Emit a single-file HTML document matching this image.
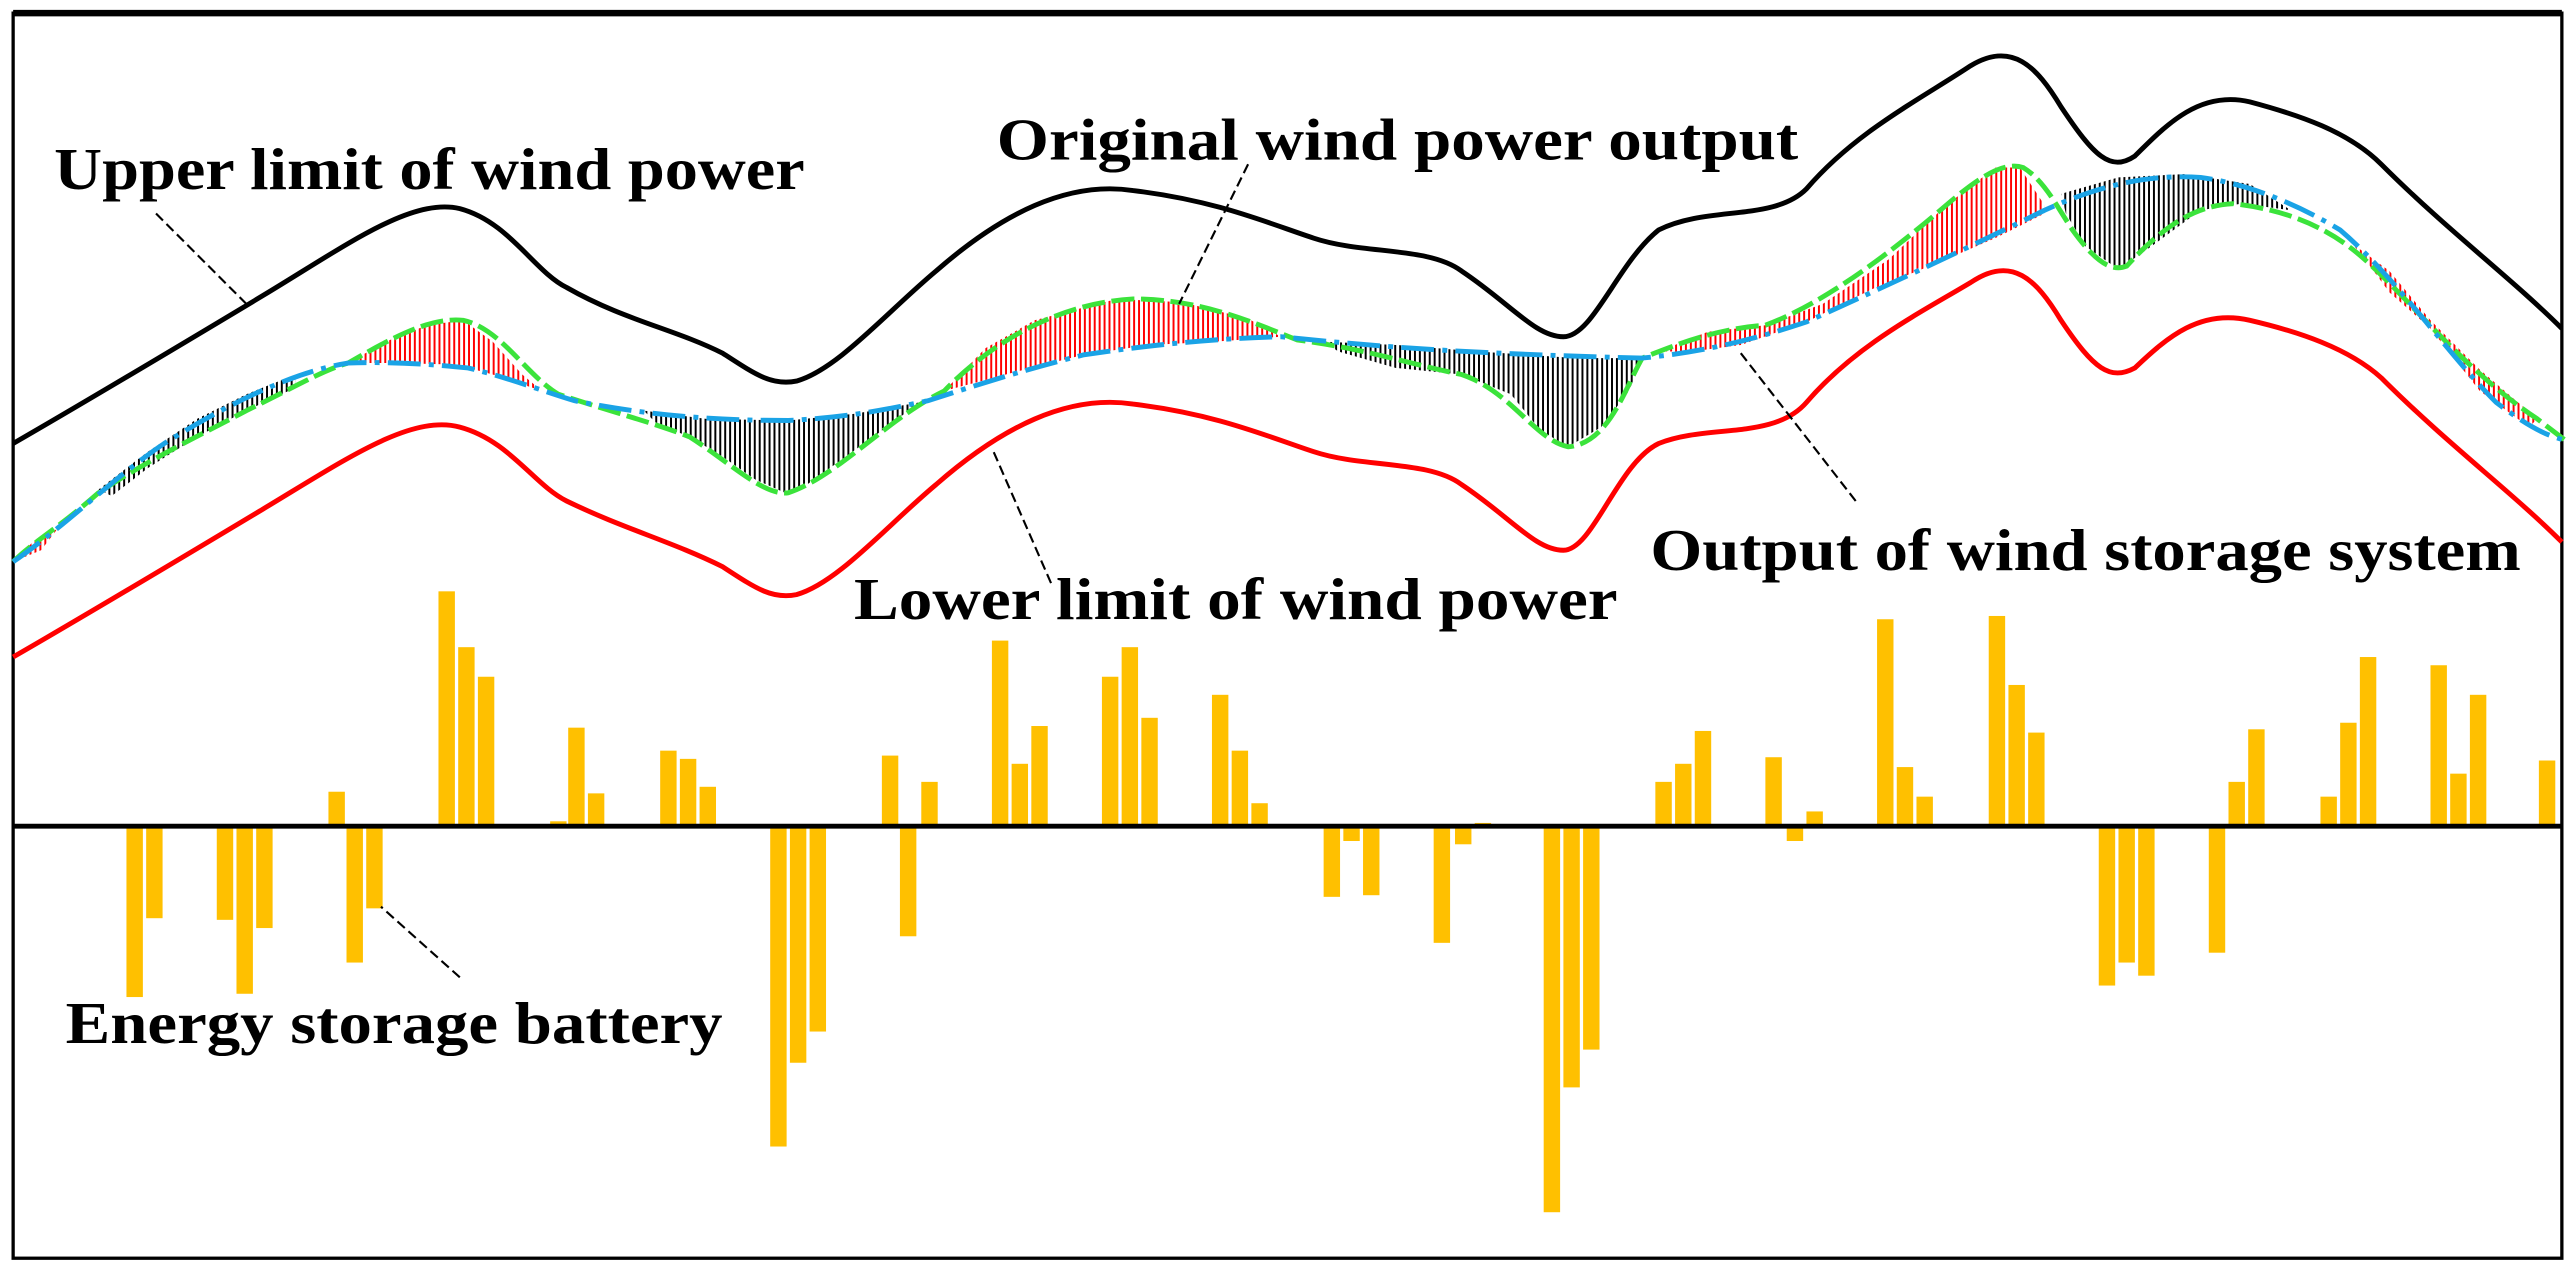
<!DOCTYPE html>
<html><head><meta charset="utf-8"><style>
html,body{margin:0;padding:0;background:#fff;}
svg{display:block;}
text{font-family:"Liberation Serif",serif;font-weight:bold;font-size:36px;fill:#000;}
</style></head><body>
<svg width="2575" height="1273" viewBox="0 0 1568 775" preserveAspectRatio="none" xmlns="http://www.w3.org/2000/svg">
<defs>
<pattern id="hr" width="3" height="10" patternUnits="userSpaceOnUse"><rect x="0" y="0" width="1.2" height="10" fill="#f00"/></pattern>
<pattern id="hk" width="3" height="10" patternUnits="userSpaceOnUse"><rect x="0" y="0" width="1.2" height="10" fill="#000"/></pattern>
</defs>
<rect x="0" y="0" width="1568" height="775" fill="#fff"/>
<rect x="8" y="8" width="1552" height="758" fill="none" stroke="#000" stroke-width="2"/>
<line x1="8" y1="8" x2="1560" y2="8" stroke="#000" stroke-width="4"/>

<path d="M8,342 L20,330 L35,322 L25,335 Z" fill="url(#hr)"/>
<path d="M60,298 L90,275 L120,255 L150,240 L180,228 L180,236 L150,250 L120,266 L90,285 L68,302 Z" fill="url(#hk)"/>
<path d="M212,221 L235,208 L260,198 L282,195 L300,208 L318,228 L330,238 L300,228 L278,222 L240,221 Z" fill="url(#hr)"/>
<path d="M392,250 L430,255 L480,256 L520,252 L560,245 L540,260 L515,278 L490,296 L478,300 L460,292 L440,278 L420,266 L400,258 Z" fill="url(#hk)"/>
<path d="M575,238 L600,212 L630,195 L680,182 L720,184 L760,194 L780,205 L740,208 L700,210 L660,216 L620,226 L590,234 Z" fill="url(#hr)"/>
<path d="M806,208 L850,210 L900,214 L960,218 L1000,218 L992,238 L975,260 L955,272 L938,262 L920,240 L890,228 L850,224 L815,214 Z" fill="url(#hk)"/>
<path d="M1010,214 L1040,202 L1075,198 L1110,185 L1150,158 L1185,125 L1215,102 L1230,102 L1245,125 L1245,130 L1215,145 L1180,160 L1140,176 L1100,196 L1060,210 L1030,214 Z" fill="url(#hr)"/>
<path d="M1255,118 L1290,108 L1330,106 L1370,112 L1395,128 L1365,124 L1340,128 L1310,150 L1290,164 L1270,150 L1258,130 Z" fill="url(#hk)"/>
<path d="M1432,148 L1455,165 L1480,195 L1510,225 L1545,255 L1540,260 L1510,238 L1480,200 L1455,178 L1438,155 Z" fill="url(#hr)"/>

<path d="M8,270 C60,240 110,210 160,180 C210,150 250,120 280,127 C310,135 325,165 345,175 C380,195 410,200 440,215 C460,228 470,235 485,232 C510,225 540,190 570,165 C610,130 650,110 690,116 C740,122 770,135 800,145 C830,155 870,150 890,165 C920,185 935,205 952,205 C970,205 985,160 1010,140 C1040,125 1080,135 1100,115 C1130,80 1170,60 1200,40 C1225,25 1240,40 1255,65 C1275,95 1285,105 1300,95 C1320,75 1340,55 1370,62 C1400,70 1430,80 1450,100 C1490,140 1530,170 1560,200" fill="none" stroke="#000" stroke-width="3"/>
<path d="M8,400 C60,370 110,340 160,310 C210,280 250,252 280,260 C310,268 325,295 345,305 C380,322 410,330 440,345 C460,358 470,365 485,362 C510,355 540,320 570,295 C610,260 650,240 690,246 C740,252 770,265 800,275 C830,285 870,280 890,295 C920,315 935,335 952,335 C970,335 985,282 1010,270 C1040,258 1080,268 1100,245 C1130,210 1170,190 1200,172 C1225,155 1240,170 1255,195 C1275,225 1285,232 1300,224 C1320,205 1340,188 1370,195 C1400,202 1430,212 1450,230 C1490,270 1530,300 1560,330" fill="none" stroke="#f00" stroke-width="3"/>
<path d="M8,342 C20,330 35,322 60,300 C90,280 120,266 150,250 C175,238 195,226 212,221 C240,205 262,193 282,195 C305,200 320,228 340,240 C370,250 400,258 420,266 C445,282 465,302 480,300 C510,290 540,255 575,238 C600,212 640,185 690,182 C730,182 760,195 790,207 C830,212 860,222 890,228 C920,238 935,268 955,272 C980,270 990,235 1000,218 C1020,210 1045,200 1075,198 C1110,185 1150,155 1185,125 C1205,108 1220,98 1232,102 C1245,110 1252,125 1262,140 C1275,158 1285,166 1295,162 C1315,140 1335,125 1360,124 C1395,128 1420,140 1440,158 C1470,185 1500,225 1545,255 L1562,268" fill="none" stroke="#3be33b" stroke-width="3" stroke-dasharray="14,4"/>
<path d="M8,342 C40,320 70,290 100,270 C140,245 180,226 212,221 C240,220 265,222 285,224 C310,230 330,238 350,244 C390,252 430,256 480,256 C520,254 545,248 565,244 C590,236 620,226 660,216 C700,210 740,206 780,205 C830,210 880,215 1000,218 C1040,214 1070,206 1100,196 C1140,178 1190,155 1245,128 C1280,112 1310,106 1340,108 C1370,112 1400,125 1425,140 C1460,170 1490,215 1520,245 C1540,260 1550,265 1562,268" fill="none" stroke="#1aa3e6" stroke-width="3" stroke-dasharray="20,5,3,5"/>

<g fill="#ffc000">
<rect x="200" y="482" width="10" height="21"/>
<rect x="267" y="360" width="10" height="143"/><rect x="279" y="394" width="10" height="109"/><rect x="291" y="412" width="10" height="91"/>
<rect x="335" y="500" width="10" height="3"/><rect x="346" y="443" width="10" height="60"/><rect x="358" y="483" width="10" height="20"/>
<rect x="402" y="457" width="10" height="46"/><rect x="414" y="462" width="10" height="41"/><rect x="426" y="479" width="10" height="24"/>
<rect x="537" y="460" width="10" height="43"/><rect x="561" y="476" width="10" height="27"/>
<rect x="604" y="390" width="10" height="113"/><rect x="616" y="465" width="10" height="38"/><rect x="628" y="442" width="10" height="61"/>
<rect x="671" y="412" width="10" height="91"/><rect x="683" y="394" width="10" height="109"/><rect x="695" y="437" width="10" height="66"/>
<rect x="738" y="423" width="10" height="80"/><rect x="750" y="457" width="10" height="46"/><rect x="762" y="489" width="10" height="14"/>
<rect x="1008" y="476" width="10" height="27"/><rect x="1020" y="465" width="10" height="38"/><rect x="1032" y="445" width="10" height="58"/>
<rect x="1075" y="461" width="10" height="42"/><rect x="1100" y="494" width="10" height="9"/>
<rect x="1143" y="377" width="10" height="126"/><rect x="1155" y="467" width="10" height="36"/><rect x="1167" y="485" width="10" height="18"/>
<rect x="1211" y="375" width="10" height="128"/><rect x="1223" y="417" width="10" height="86"/><rect x="1235" y="446" width="10" height="57"/>
<rect x="1357" y="476" width="10" height="27"/><rect x="1369" y="444" width="10" height="59"/>
<rect x="1413" y="485" width="10" height="18"/><rect x="1425" y="440" width="10" height="63"/><rect x="1437" y="400" width="10" height="103"/>
<rect x="1480" y="405" width="10" height="98"/><rect x="1492" y="471" width="10" height="32"/><rect x="1504" y="423" width="10" height="80"/>
<rect x="1546" y="463" width="10" height="40"/>
<rect x="77" y="503" width="10" height="104"/><rect x="89" y="503" width="10" height="56"/>
<rect x="132" y="503" width="10" height="57"/><rect x="144" y="503" width="10" height="102"/><rect x="156" y="503" width="10" height="62"/>
<rect x="211" y="503" width="10" height="83"/><rect x="223" y="503" width="10" height="50"/>
<rect x="469" y="503" width="10" height="195"/><rect x="481" y="503" width="10" height="144"/><rect x="493" y="503" width="10" height="125"/>
<rect x="548" y="503" width="10" height="67"/>
<rect x="806" y="503" width="10" height="43"/><rect x="818" y="503" width="10" height="9"/><rect x="830" y="503" width="10" height="42"/>
<rect x="873" y="503" width="10" height="71"/><rect x="886" y="503" width="10" height="11"/><rect x="898" y="501" width="10" height="3"/>
<rect x="940" y="503" width="10" height="235"/><rect x="952" y="503" width="10" height="159"/><rect x="964" y="503" width="10" height="136"/>
<rect x="1088" y="503" width="10" height="9"/>
<rect x="1278" y="503" width="10" height="97"/><rect x="1290" y="503" width="10" height="83"/><rect x="1302" y="503" width="10" height="91"/>
<rect x="1345" y="503" width="10" height="77"/>
</g>
<line x1="8" y1="503" x2="1560" y2="503" stroke="#000" stroke-width="3"/>

<g stroke="#000" stroke-width="1.3" stroke-dasharray="6,3" fill="none">
<line x1="95" y1="130" x2="150" y2="185"/>
<line x1="760" y1="100" x2="718" y2="185"/>
<line x1="1130" y1="305" x2="1060" y2="215"/>
<line x1="640" y1="355" x2="605" y2="275"/>
<line x1="280" y1="595" x2="232" y2="552"/>
</g>

<text x="33" y="115" textLength="457" lengthAdjust="spacingAndGlyphs">Upper limit of wind power</text>
<text x="607" y="97" textLength="488" lengthAdjust="spacingAndGlyphs">Original wind power output</text>
<text x="1005" y="347" textLength="530" lengthAdjust="spacingAndGlyphs">Output of wind storage system</text>
<text x="520" y="377" textLength="465" lengthAdjust="spacingAndGlyphs">Lower limit of wind power</text>
<text x="40" y="635" textLength="400" lengthAdjust="spacingAndGlyphs">Energy storage battery</text>
</svg>
</body></html>
